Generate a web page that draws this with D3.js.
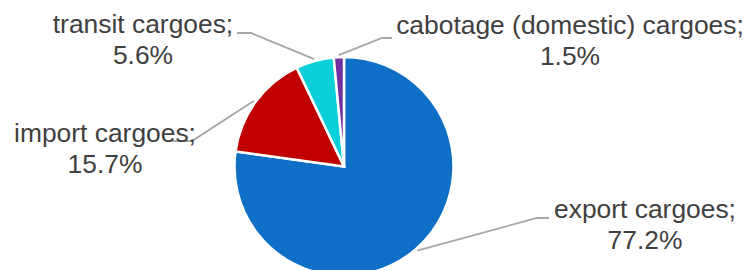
<!DOCTYPE html>
<html>
<head>
<meta charset="utf-8">
<script src="https://cdn.jsdelivr.net/npm/d3@7"></script>
<style>
  html, body { margin: 0; padding: 0; background: #fff; }
  svg { display: block; }
  text { font-family: "Liberation Sans", Arial, sans-serif; }
</style>
</head>
<body>
<svg id="chart" width="751" height="270"></svg>
<script>
// data
var categories = ["export cargoes", "import cargoes", "transit cargoes", "cabotage (domestic) cargoes"]
var shares = [77.2, 15.7, 5.6, 1.5]
var colors = ["#0F6FC6", "#C00000", "#0BD0D9", "#7030A0"]

// label layout (centre x, first baseline) and leader elbow / end points
var labelPos = [[645, 218], [105, 142], [143, 33], [570, 33.5]]
var leaderPts = [
  [[537, 218], [549, 218]],
  [[192, 141], [172, 141]],
  [[251, 33], [237, 33]],
  [[382, 38], [392, 38]]
]

var W = 751, H = 270
var CX = 344, CY = 166.5, R = 109.5
var svg = d3.select("#chart")

var pie = d3.pie().sort(null).value(d => d)
var arcs = pie(shares)
var arc = d3.arc().innerRadius(0).outerRadius(R)

var g = svg.append("g").attr("transform", "translate(" + CX + "," + CY + ")")

g.selectAll("path.slice")
  .data(arcs)
  .enter().append("path")
  .attr("class", "slice")
  .attr("d", arc)
  .style("fill", (d, i) => colors[i])
  .style("stroke", "#fff")
  .style("stroke-width", 2.5)
  .style("stroke-linejoin", "miter")

// leader lines
var line = d3.line()
arcs.forEach(function(a, i) {
  var mid = (a.startAngle + a.endAngle) / 2
  var p0 = [CX + (R + 2) * Math.sin(mid), CY - (R + 2) * Math.cos(mid)]
  svg.append("path")
    .attr("d", line([p0].concat(leaderPts[i])))
    .style("fill", "none")
    .style("stroke", "#A6A6A6")
    .style("stroke-width", 1.8)
})

// labels
arcs.forEach(function(a, i) {
  var t = svg.append("text")
    .attr("x", labelPos[i][0])
    .attr("y", labelPos[i][1])
    .attr("text-anchor", "middle")
    .style("font-size", "26.4px")
    .style("fill", "#404040")
  t.append("tspan").attr("x", labelPos[i][0]).text(categories[i] + ";")
  t.append("tspan").attr("x", labelPos[i][0]).attr("dy", 31).text(shares[i].toFixed(1) + "%")
})
</script>
</body>
</html>
